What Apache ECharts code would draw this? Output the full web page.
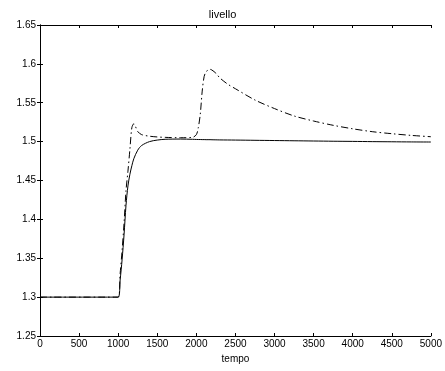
<!DOCTYPE html>
<html>
<head>
<meta charset="utf-8">
<script src="https://cdn.jsdelivr.net/npm/echarts@6/dist/echarts.min.js"></script>
<style>html,body{margin:0;padding:0;background:#fff}#c{width:445px;height:371px}</style>
</head>
<body>
<div id="c"></div>
<script>
const tempo = [0, 1000, 1025, 1050, 1075, 1100, 1125, 1150, 1175, 1200, 1250, 1300, 1400, 1500, 1600, 1800, 1950, 2000, 2025, 2050, 2075, 2100, 2125, 2150, 2175, 2200, 2250, 2300, 2400, 2500, 2750, 3000, 3250, 3500, 3750, 4000, 4250, 4500, 4750, 5000];
const livelloSolido = [1.3, 1.3, 1.322, 1.348, 1.38, 1.418, 1.443, 1.458, 1.469, 1.478, 1.489, 1.495, 1.5, 1.502, 1.503, 1.5033, 1.503, 1.5028, 1.5027, 1.5027, 1.5026, 1.5026, 1.5025, 1.5025, 1.5025, 1.5024, 1.5023, 1.5022, 1.5021, 1.502, 1.5017, 1.5014, 1.5011, 1.5008, 1.5005, 1.5003, 1.5, 1.4998, 1.4996, 1.4995];
const livelloTratteggiato = [1.3, 1.3, 1.33, 1.36, 1.395, 1.437, 1.462, 1.49, 1.518, 1.523, 1.513, 1.509, 1.507, 1.506, 1.5055, 1.505, 1.5055, 1.509, 1.518, 1.535, 1.565, 1.584, 1.59, 1.592, 1.593, 1.592, 1.588, 1.582, 1.574, 1.568, 1.5535, 1.5425, 1.533, 1.5265, 1.521, 1.5165, 1.5128, 1.5102, 1.508, 1.5063];

const font = 'Liberation Sans, Arial, Helvetica, sans-serif';
const pair = (ys) => tempo.map((t, i) => [t, ys[i]]);
const chart = echarts.init(document.getElementById('c'), null, {renderer: 'canvas'});
const axisLine = {show: true, lineStyle: {color: '#000', width: 1}};
const axisTick = {show: true, inside: true, length: 3, lineStyle: {color: '#000', width: 1}};
chart.setOption({
  animation: false,
  backgroundColor: '#fff',
  title: {text: 'livello', left: 'center', top: 4, textStyle: {fontFamily: font, fontSize: 11, fontWeight: 'normal', color: '#000'}},
  grid: {left: 40, right: 11, top: 25, bottom: 35, containLabel: false},
  xAxis: [
    {type: 'value', min: 0, max: 5000, interval: 500, position: 'bottom',
     name: 'tempo', nameLocation: 'middle', nameGap: 17, nameTextStyle: {fontFamily: font, fontSize: 10, color: '#000'},
     axisLine, axisTick, splitLine: {show: false},
     axisLabel: {fontFamily: font, fontSize: 10, color: '#000', margin: 3, formatter: v => String(v)}},
    {type: 'value', min: 0, max: 5000, interval: 500, position: 'top',
     axisLine, axisTick, splitLine: {show: false}, axisLabel: {show: false}}
  ],
  yAxis: [
    {type: 'value', min: 1.25, max: 1.65, interval: 0.05, position: 'left',
     axisLine, axisTick, splitLine: {show: false},
     axisLabel: {fontFamily: font, fontSize: 10, color: '#000', margin: 4, formatter: v => String(+v.toFixed(2))}},
    {type: 'value', min: 1.25, max: 1.65, interval: 0.05, position: 'right',
     axisLine, axisTick, splitLine: {show: false}, axisLabel: {show: false}}
  ],
  series: [
    {type: 'line', data: pair(livelloSolido), symbol: 'none', smooth: 0.3, lineStyle: {color: '#000', width: 1}},
    {type: 'line', data: pair(livelloTratteggiato), symbol: 'none', smooth: 0.3, lineStyle: {color: '#000', width: 1, type: [7, 3, 1.5, 3]}}
  ]
});
</script>
</body>
</html>
